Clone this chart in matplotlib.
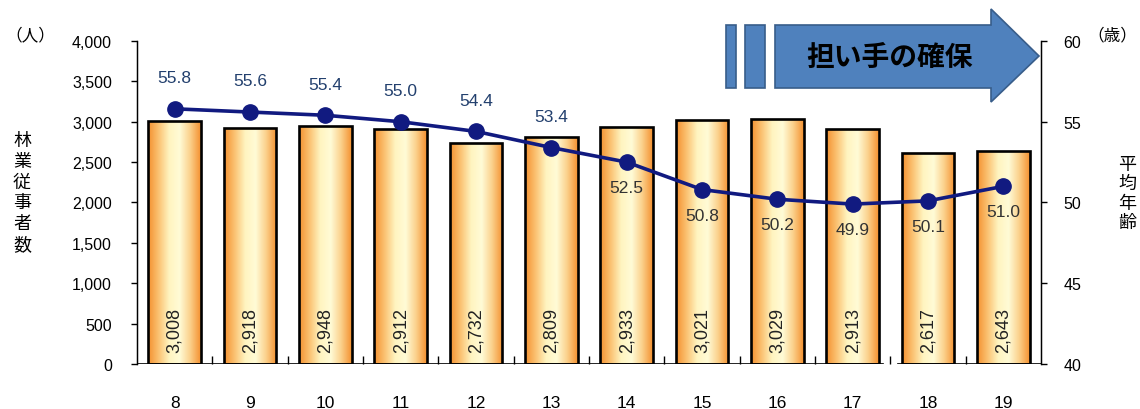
import numpy as np
import matplotlib
matplotlib.use("Agg")
import matplotlib.pyplot as plt
from matplotlib.colors import LinearSegmentedColormap
from matplotlib.patches import Polygon, Rectangle


years = ["8", "9", "10", "11", "12", "13", "14", "15", "16", "17", "18", "19"]
workers = [3008, 2918, 2948, 2912, 2732, 2809, 2933, 3021, 3029, 2913, 2617, 2643]
avg_age = [55.8, 55.6, 55.4, 55.0, 54.4, 53.4, 52.5, 50.8, 50.2, 49.9, 50.1, 51.0]

left_ticks = [0, 500, 1000, 1500, 2000, 2500, 3000, 3500, 4000]
right_ticks = [40, 45, 50, 55, 60]

NUM_FONT = ["Liberation Sans", "DejaVu Sans"]
JP_FONT = ["Noto Sans CJK JP", "DejaVu Sans"]

plt.rcParams["font.family"] = NUM_FONT

fig = plt.figure(figsize=(11.4, 4.1), dpi=100)
ax = fig.add_axes([0.1202, 0.1098, 0.7930, 0.7878])
ax2 = ax.twinx()

x = np.arange(len(years))

# bars with a horizontal orange -> pale yellow -> orange shading
bar_cmap = LinearSegmentedColormap.from_list(
    "bar", ["#f4902f", "#fbc272", "#fff4c0", "#fffbd6", "#fbd08a", "#f4902f"])
bars = ax.bar(x, workers, width=0.70, facecolor="none",
              edgecolor="black", linewidth=1.9, zorder=3)
grad = np.linspace(0, 1, 256).reshape(1, -1)
for rect in bars:
    x0 = rect.get_x()
    w = rect.get_width()
    h = rect.get_height()
    im = ax.imshow(grad, cmap=bar_cmap, aspect="auto",
                   extent=[x0, x0 + w, 0, h], zorder=2)
    clip = Rectangle((x0, 0), w, h, transform=ax.transData)
    im.set_clip_path(clip)

for xi, v in zip(x, workers):
    ax.text(xi, 150, f"{v:,}", rotation=90, ha="center", va="bottom",
            fontsize=13, color="#222222", zorder=4)

ax.set_xlim(-0.5, len(years) - 0.5)
ax.set_ylim(0, 4000)
ax.set_yticks(left_ticks)
ax.set_yticklabels([f"{t:,}" for t in left_ticks], fontsize=11.5)
ax.set_xticks(x)
ax.set_xticklabels(years, fontsize=12.5)
ax.tick_params(axis="x", length=0, pad=22)
ax.tick_params(axis="y", length=4, width=1, direction="out", pad=14)

# category separators on the baseline
ax.set_xticks(x[:-1] + 0.5, minor=True)
ax.tick_params(axis="x", which="minor", length=6, width=1, direction="in")

for side in ["top", "bottom"]:
    ax.spines[side].set_visible(False)
    ax2.spines[side].set_visible(False)
ax.spines["left"].set_linewidth(1)
ax2.spines["right"].set_linewidth(1)

# baseline with a break between 17 and 18
brk = (9.5 + 0.5) / len(years)
ax.axhline(0, xmin=0, xmax=brk - 0.008, color="black", lw=1.2, zorder=5)
ax.axhline(0, xmin=brk + 0.008, xmax=1, color="black", lw=1.2, zorder=5)

# average age line
ax2.plot(x, avg_age, color="#111a80", lw=2.6, marker="o", markersize=11,
         zorder=6)
ax2.set_ylim(40, 60)
ax2.set_yticks(right_ticks)
ax2.set_yticklabels([str(t) for t in right_ticks], fontsize=11.5)
ax2.tick_params(axis="y", length=4, width=1, direction="out", pad=12)

for i, (xi, v) in enumerate(zip(x, avg_age)):
    if i < 6:
        ax2.annotate(f"{v:.1f}", (xi, v), xytext=(0, 17),
                     textcoords="offset points", ha="center", va="bottom",
                     fontsize=12.5, color="#23406e")
    else:
        ax2.annotate(f"{v:.1f}", (xi, v), xytext=(0, -13),
                     textcoords="offset points", ha="center", va="top",
                     fontsize=12.5, color="#333333")

ax.set_zorder(1)
ax2.set_zorder(2)
ax2.patch.set_visible(False)

# axis captions
fig.text(30 / 1140, 1 - 36 / 410, "（人）", family=JP_FONT, fontsize=12,
         ha="center", va="center")
fig.text(1112 / 1140, 1 - 36 / 410, "（歳）", family=JP_FONT, fontsize=12,
         ha="center", va="center")
fig.text(22 / 1140, 1 - 193 / 410, "\n".join("林業従事者数"), family=JP_FONT,
         fontsize=13, ha="center", va="center", linespacing=1.2)
fig.text(1127 / 1140, 1 - 194 / 410, "\n".join("平均年齢"), family=JP_FONT,
         fontsize=13, ha="center", va="center", linespacing=1.1)


def fig_pt(px, py):
    return (px / 1140, 1 - py / 410)


arrow_fill = "#4f81bd"
arrow_edge = "#385d8a"
for bx0, bx1 in [(726, 736), (745, 765)]:
    fig.patches.append(Polygon(
        [fig_pt(bx0, 26), fig_pt(bx1, 26), fig_pt(bx1, 89), fig_pt(bx0, 89)],
        closed=True, transform=fig.transFigure, facecolor=arrow_fill,
        edgecolor=arrow_edge, lw=1.2))

arrow_pts = [(775, 26), (991, 26), (991, 10), (1039, 57), (991, 103),
             (991, 89), (775, 89)]
fig.patches.append(Polygon([fig_pt(*p) for p in arrow_pts], closed=True,
                           transform=fig.transFigure, facecolor=arrow_fill,
                           edgecolor=arrow_edge, lw=1.2))
fig.text(889 / 1140, 1 - 58 / 410, "担い手の確保", family=JP_FONT,
         fontsize=20, fontweight="bold", ha="center", va="center",
         color="black")

fig.savefig("out.png", dpi=100)
